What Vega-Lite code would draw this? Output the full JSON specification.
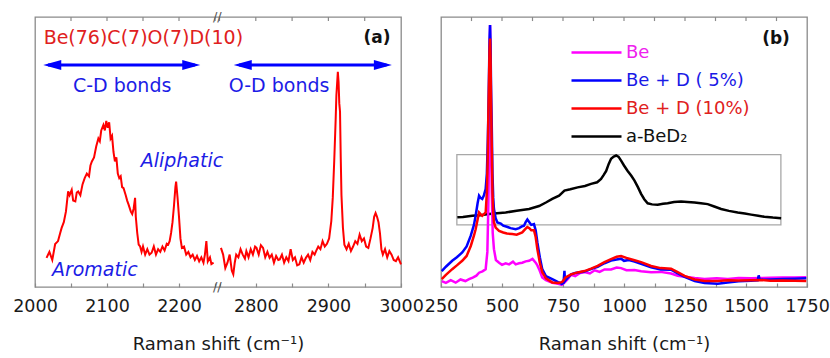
{
  "$schema": "https://vega.github.io/schema/vega-lite/v6.json",
  "background": "white",
  "padding": {"left": 12, "top": 10, "right": 5, "bottom": 2},
  "spacing": 40,
  "bounds": "flush",
  "config": {
    "font": "DejaVu Sans",
    "view": {"stroke": "#8a8a8a", "strokeWidth": 1.3},
    "axis": {
      "domain": false,
      "grid": false,
      "tickColor": "#8a8a8a",
      "tickSize": -4,
      "tickWidth": 1.2,
      "labelFont": "DejaVu Sans",
      "labelFontSize": 17.5,
      "labelColor": "#1a1a1a",
      "labelPadding": 14,
      "labelFlush": false,
      "labelOverlap": false,
      "labelBound": false,
      "titleFont": "DejaVu Sans",
      "titleFontSize": 18,
      "titleFontWeight": "normal",
      "titleColor": "#1a1a1a",
      "titlePadding": 21
    },
    "text": {"font": "DejaVu Sans"}
  },
  "datasets": {
    "a": [
      {"x":2016,"y":10.8,"seg":"L"},{"x":2020,"y":13,"seg":"L"},{"x":2024,"y":10,"seg":"L"},{"x":2028,"y":15.9,"seg":"L"},{"x":2032,"y":17,"seg":"L"},{"x":2035,"y":20,"seg":"L"},{"x":2037,"y":21.9,"seg":"L"},{"x":2040,"y":24,"seg":"L"},{"x":2043,"y":28,"seg":"L"},{"x":2046,"y":35.4,"seg":"L"},{"x":2048,"y":34,"seg":"L"},{"x":2051,"y":36,"seg":"L"},{"x":2053,"y":32,"seg":"L"},{"x":2056,"y":31.7,"seg":"L"},{"x":2058,"y":35,"seg":"L"},{"x":2060,"y":35.4,"seg":"L"},{"x":2063,"y":34,"seg":"L"},{"x":2066,"y":38,"seg":"L"},{"x":2069,"y":40.3,"seg":"L"},{"x":2072,"y":42,"seg":"L"},{"x":2075,"y":41,"seg":"L"},{"x":2077,"y":45,"seg":"L"},{"x":2079,"y":46.5,"seg":"L"},{"x":2082,"y":48,"seg":"L"},{"x":2085,"y":52,"seg":"L"},{"x":2088,"y":55,"seg":"L"},{"x":2090,"y":54,"seg":"L"},{"x":2092,"y":58,"seg":"L"},{"x":2095,"y":60,"seg":"L"},{"x":2097,"y":58,"seg":"L"},{"x":2099,"y":61.5,"seg":"L"},{"x":2101,"y":59,"seg":"L"},{"x":2103,"y":61,"seg":"L"},{"x":2105,"y":55,"seg":"L"},{"x":2107,"y":56,"seg":"L"},{"x":2109,"y":50,"seg":"L"},{"x":2111,"y":46.5,"seg":"L"},{"x":2113,"y":48,"seg":"L"},{"x":2115,"y":42,"seg":"L"},{"x":2117,"y":40.3,"seg":"L"},{"x":2119,"y":41,"seg":"L"},{"x":2121,"y":37,"seg":"L"},{"x":2123,"y":36.6,"seg":"L"},{"x":2126,"y":34,"seg":"L"},{"x":2128,"y":32,"seg":"L"},{"x":2130,"y":30.5,"seg":"L"},{"x":2133,"y":28,"seg":"L"},{"x":2135,"y":27,"seg":"L"},{"x":2137,"y":29,"seg":"L"},{"x":2139,"y":33,"seg":"L"},{"x":2140,"y":26,"seg":"L"},{"x":2142,"y":20,"seg":"L"},{"x":2144,"y":15.7,"seg":"L"},{"x":2146,"y":15,"seg":"L"},{"x":2148,"y":13,"seg":"L"},{"x":2150,"y":15,"seg":"L"},{"x":2153,"y":12,"seg":"L"},{"x":2156,"y":14,"seg":"L"},{"x":2159,"y":12,"seg":"L"},{"x":2162,"y":12.7,"seg":"L"},{"x":2165,"y":15,"seg":"L"},{"x":2168,"y":12,"seg":"L"},{"x":2171,"y":14,"seg":"L"},{"x":2174,"y":13,"seg":"L"},{"x":2177,"y":15,"seg":"L"},{"x":2180,"y":13.5,"seg":"L"},{"x":2183,"y":16,"seg":"L"},{"x":2185,"y":15.7,"seg":"L"},{"x":2187,"y":17,"seg":"L"},{"x":2189,"y":20,"seg":"L"},{"x":2191,"y":24,"seg":"L"},{"x":2193,"y":30,"seg":"L"},{"x":2195,"y":37,"seg":"L"},{"x":2196,"y":39,"seg":"L"},{"x":2198,"y":33,"seg":"L"},{"x":2200,"y":26,"seg":"L"},{"x":2202,"y":18,"seg":"L"},{"x":2204,"y":14.5,"seg":"L"},{"x":2207,"y":15,"seg":"L"},{"x":2210,"y":12,"seg":"L"},{"x":2213,"y":13,"seg":"L"},{"x":2216,"y":11,"seg":"L"},{"x":2219,"y":12,"seg":"L"},{"x":2222,"y":10,"seg":"L"},{"x":2225,"y":11.5,"seg":"L"},{"x":2228,"y":9.5,"seg":"L"},{"x":2231,"y":11,"seg":"L"},{"x":2234,"y":9,"seg":"L"},{"x":2236,"y":12,"seg":"L"},{"x":2238,"y":17,"seg":"L"},{"x":2240,"y":9.5,"seg":"L"},{"x":2243,"y":11,"seg":"L"},{"x":2245,"y":8.5,"seg":"L"},{"x":2248,"y":9,"seg":"L"},
      {"x":2752,"y":14.5,"seg":"R"},{"x":2755,"y":12,"seg":"R"},{"x":2758,"y":7,"seg":"R"},{"x":2761,"y":9,"seg":"R"},{"x":2764,"y":12,"seg":"R"},{"x":2767,"y":6,"seg":"R"},{"x":2769,"y":4.7,"seg":"R"},{"x":2771,"y":9,"seg":"R"},{"x":2773,"y":12,"seg":"R"},{"x":2776,"y":11,"seg":"R"},{"x":2779,"y":14,"seg":"R"},{"x":2782,"y":12,"seg":"R"},{"x":2785,"y":10.5,"seg":"R"},{"x":2787,"y":13.3,"seg":"R"},{"x":2790,"y":11,"seg":"R"},{"x":2793,"y":14,"seg":"R"},{"x":2796,"y":12,"seg":"R"},{"x":2799,"y":15,"seg":"R"},{"x":2801,"y":14.5,"seg":"R"},{"x":2804,"y":12,"seg":"R"},{"x":2807,"y":15.5,"seg":"R"},{"x":2810,"y":14.5,"seg":"R"},{"x":2813,"y":11,"seg":"R"},{"x":2816,"y":13,"seg":"R"},{"x":2819,"y":10.8,"seg":"R"},{"x":2822,"y":12,"seg":"R"},{"x":2825,"y":9,"seg":"R"},{"x":2828,"y":11.5,"seg":"R"},{"x":2831,"y":10,"seg":"R"},{"x":2833,"y":10.2,"seg":"R"},{"x":2836,"y":12,"seg":"R"},{"x":2839,"y":9,"seg":"R"},{"x":2842,"y":11,"seg":"R"},{"x":2845,"y":9.6,"seg":"R"},{"x":2848,"y":14,"seg":"R"},{"x":2851,"y":10,"seg":"R"},{"x":2854,"y":11,"seg":"R"},{"x":2857,"y":8,"seg":"R"},{"x":2860,"y":8.4,"seg":"R"},{"x":2863,"y":11,"seg":"R"},{"x":2866,"y":9,"seg":"R"},{"x":2869,"y":10.8,"seg":"R"},{"x":2872,"y":12,"seg":"R"},{"x":2875,"y":10,"seg":"R"},{"x":2878,"y":13,"seg":"R"},{"x":2881,"y":12,"seg":"R"},{"x":2883,"y":13.3,"seg":"R"},{"x":2886,"y":15,"seg":"R"},{"x":2889,"y":14,"seg":"R"},{"x":2892,"y":17,"seg":"R"},{"x":2895,"y":15,"seg":"R"},{"x":2898,"y":16,"seg":"R"},{"x":2901,"y":18,"seg":"R"},{"x":2904,"y":24.4,"seg":"R"},{"x":2906,"y":33,"seg":"R"},{"x":2908,"y":46.5,"seg":"R"},{"x":2910,"y":62,"seg":"R"},{"x":2911,"y":71,"seg":"R"},{"x":2913,"y":79.7,"seg":"R"},{"x":2914,"y":76,"seg":"R"},{"x":2915,"y":68,"seg":"R"},{"x":2916,"y":65,"seg":"R"},{"x":2917,"y":48,"seg":"R"},{"x":2918,"y":34,"seg":"R"},{"x":2920,"y":22,"seg":"R"},{"x":2922,"y":15.7,"seg":"R"},{"x":2925,"y":14,"seg":"R"},{"x":2928,"y":16,"seg":"R"},{"x":2931,"y":13.3,"seg":"R"},{"x":2934,"y":15,"seg":"R"},{"x":2937,"y":17,"seg":"R"},{"x":2940,"y":16,"seg":"R"},{"x":2943,"y":19.4,"seg":"R"},{"x":2946,"y":17,"seg":"R"},{"x":2949,"y":18,"seg":"R"},{"x":2952,"y":15,"seg":"R"},{"x":2955,"y":14.5,"seg":"R"},{"x":2958,"y":18,"seg":"R"},{"x":2961,"y":21.9,"seg":"R"},{"x":2963,"y":26,"seg":"R"},{"x":2965,"y":27.4,"seg":"R"},{"x":2967,"y":26,"seg":"R"},{"x":2969,"y":24,"seg":"R"},{"x":2971,"y":20,"seg":"R"},{"x":2973,"y":14,"seg":"R"},{"x":2975,"y":12,"seg":"R"},{"x":2978,"y":14,"seg":"R"},{"x":2981,"y":11,"seg":"R"},{"x":2984,"y":13.3,"seg":"R"},{"x":2987,"y":12,"seg":"R"},{"x":2990,"y":10,"seg":"R"},{"x":2993,"y":9.6,"seg":"R"},{"x":2996,"y":11,"seg":"R"},{"x":3000,"y":8.4,"seg":"R"}
    ],
    "b": [
      {"s":"a-BeD₂","x":317,"y":25.8},{"s":"a-BeD₂","x":340,"y":25.9},{"s":"a-BeD₂","x":378,"y":26.4},{"s":"a-BeD₂","x":410,"y":26.6},{"s":"a-BeD₂","x":447,"y":27},{"s":"a-BeD₂","x":480,"y":27.3},{"s":"a-BeD₂","x":515,"y":27.6},{"s":"a-BeD₂","x":560,"y":28.2},{"s":"a-BeD₂","x":611,"y":28.9},{"s":"a-BeD₂","x":652,"y":30},{"s":"a-BeD₂","x":680,"y":31.3},{"s":"a-BeD₂","x":706,"y":32.6},{"s":"a-BeD₂","x":734,"y":33.8},{"s":"a-BeD₂","x":756,"y":35.7},{"s":"a-BeD₂","x":780,"y":36.2},{"s":"a-BeD₂","x":810,"y":36.9},{"s":"a-BeD₂","x":840,"y":37.4},{"s":"a-BeD₂","x":865,"y":38.2},{"s":"a-BeD₂","x":890,"y":38.8},{"s":"a-BeD₂","x":906,"y":40},{"s":"a-BeD₂","x":917,"y":41.5},{"s":"a-BeD₂","x":927,"y":43},{"s":"a-BeD₂","x":937,"y":45.5},{"s":"a-BeD₂","x":947,"y":47.5},{"s":"a-BeD₂","x":958,"y":48.3},{"s":"a-BeD₂","x":968,"y":48.7},{"s":"a-BeD₂","x":978,"y":48.2},{"s":"a-BeD₂","x":988,"y":46.8},{"s":"a-BeD₂","x":1000,"y":45},{"s":"a-BeD₂","x":1015,"y":43},{"s":"a-BeD₂","x":1030,"y":41.2},{"s":"a-BeD₂","x":1043,"y":39.4},{"s":"a-BeD₂","x":1057,"y":37},{"s":"a-BeD₂","x":1070,"y":34.5},{"s":"a-BeD₂","x":1083,"y":32.5},{"s":"a-BeD₂","x":1097,"y":31},{"s":"a-BeD₂","x":1115,"y":30.6},{"s":"a-BeD₂","x":1138,"y":30.5},{"s":"a-BeD₂","x":1160,"y":30.8},{"s":"a-BeD₂","x":1179,"y":31},{"s":"a-BeD₂","x":1205,"y":31.5},{"s":"a-BeD₂","x":1234,"y":31.7},{"s":"a-BeD₂","x":1260,"y":31.5},{"s":"a-BeD₂","x":1289,"y":31.3},{"s":"a-BeD₂","x":1315,"y":31},{"s":"a-BeD₂","x":1343,"y":30.7},{"s":"a-BeD₂","x":1370,"y":29.8},{"s":"a-BeD₂","x":1398,"y":28.9},{"s":"a-BeD₂","x":1430,"y":28.2},{"s":"a-BeD₂","x":1466,"y":27.6},{"s":"a-BeD₂","x":1495,"y":27.2},{"s":"a-BeD₂","x":1521,"y":26.8},{"s":"a-BeD₂","x":1550,"y":26.4},{"s":"a-BeD₂","x":1575,"y":26},{"s":"a-BeD₂","x":1610,"y":25.7},{"s":"a-BeD₂","x":1644,"y":25.5},
      {"s":"Be","x":253,"y":2.2},{"s":"Be","x":270,"y":1.5},{"s":"Be","x":290,"y":2.5},{"s":"Be","x":310,"y":1.6},{"s":"Be","x":330,"y":2.8},{"s":"Be","x":350,"y":2.2},{"s":"Be","x":365,"y":2.9},{"s":"Be","x":380,"y":3.5},{"s":"Be","x":395,"y":4.2},{"s":"Be","x":406,"y":5.3},{"s":"Be","x":420,"y":5.8},{"s":"Be","x":433,"y":6.6},{"s":"Be","x":440,"y":13},{"s":"Be","x":444,"y":30},{"s":"Be","x":447,"y":50},{"s":"Be","x":449,"y":80},{"s":"Be","x":451,"y":97},{"s":"Be","x":453,"y":80},{"s":"Be","x":455,"y":55},{"s":"Be","x":458,"y":35},{"s":"Be","x":462,"y":20},{"s":"Be","x":467,"y":14},{"s":"Be","x":475,"y":10},{"s":"Be","x":488,"y":9},{"s":"Be","x":500,"y":8.2},{"s":"Be","x":515,"y":8.8},{"s":"Be","x":529,"y":8.4},{"s":"Be","x":545,"y":9.4},{"s":"Be","x":556,"y":8.4},{"s":"Be","x":570,"y":8.8},{"s":"Be","x":583,"y":9},{"s":"Be","x":597,"y":9.5},{"s":"Be","x":611,"y":9.7},{"s":"Be","x":625,"y":10.4},{"s":"Be","x":638,"y":9},{"s":"Be","x":645,"y":8},{"s":"Be","x":652,"y":6.6},{"s":"Be","x":665,"y":3.5},{"s":"Be","x":680,"y":2.5},{"s":"Be","x":706,"y":1.6},{"s":"Be","x":730,"y":1.2},{"s":"Be","x":745,"y":0.8},{"s":"Be","x":755,"y":1.5},{"s":"Be","x":770,"y":3},{"s":"Be","x":783,"y":4.5},{"s":"Be","x":800,"y":4},{"s":"Be","x":820,"y":5.2},{"s":"Be","x":838,"y":5.5},{"s":"Be","x":860,"y":5},{"s":"Be","x":880,"y":6.2},{"s":"Be","x":900,"y":5.6},{"s":"Be","x":920,"y":6.5},{"s":"Be","x":947,"y":6.5},{"s":"Be","x":970,"y":7.2},{"s":"Be","x":988,"y":7},{"s":"Be","x":1010,"y":6.2},{"s":"Be","x":1043,"y":6.3},{"s":"Be","x":1070,"y":5.8},{"s":"Be","x":1111,"y":5.5},{"s":"Be","x":1150,"y":5.6},{"s":"Be","x":1193,"y":5},{"s":"Be","x":1220,"y":4.2},{"s":"Be","x":1248,"y":3.8},{"s":"Be","x":1290,"y":3.3},{"s":"Be","x":1330,"y":3},{"s":"Be","x":1380,"y":3.2},{"s":"Be","x":1425,"y":3},{"s":"Be","x":1470,"y":3.3},{"s":"Be","x":1520,"y":3.2},{"s":"Be","x":1562,"y":3.3},{"s":"Be","x":1600,"y":3.4},{"s":"Be","x":1650,"y":3.5},{"s":"Be","x":1700,"y":3.5},{"s":"Be","x":1747,"y":3.6},
      {"s":"Be + D ( 5%)","x":253,"y":5.9},{"s":"Be + D ( 5%)","x":270,"y":7.5},{"s":"Be + D ( 5%)","x":296,"y":9.7},{"s":"Be + D ( 5%)","x":315,"y":11},{"s":"Be + D ( 5%)","x":337,"y":12.8},{"s":"Be + D ( 5%)","x":355,"y":15},{"s":"Be + D ( 5%)","x":372,"y":19},{"s":"Be + D ( 5%)","x":385,"y":23},{"s":"Be + D ( 5%)","x":392,"y":26.4},{"s":"Be + D ( 5%)","x":400,"y":31},{"s":"Be + D ( 5%)","x":406,"y":33.8},{"s":"Be + D ( 5%)","x":412,"y":33},{"s":"Be + D ( 5%)","x":419,"y":32.6},{"s":"Be + D ( 5%)","x":426,"y":34},{"s":"Be + D ( 5%)","x":433,"y":36.3},{"s":"Be + D ( 5%)","x":438,"y":42},{"s":"Be + D ( 5%)","x":442,"y":55},{"s":"Be + D ( 5%)","x":444,"y":63.6},{"s":"Be + D ( 5%)","x":447,"y":80},{"s":"Be + D ( 5%)","x":449,"y":92},{"s":"Be + D ( 5%)","x":451,"y":97},{"s":"Be + D ( 5%)","x":453,"y":90},{"s":"Be + D ( 5%)","x":455,"y":75},{"s":"Be + D ( 5%)","x":458,"y":60},{"s":"Be + D ( 5%)","x":461,"y":42},{"s":"Be + D ( 5%)","x":464,"y":33},{"s":"Be + D ( 5%)","x":467,"y":28.9},{"s":"Be + D ( 5%)","x":474,"y":25.5},{"s":"Be + D ( 5%)","x":481,"y":23.9},{"s":"Be + D ( 5%)","x":495,"y":23.5},{"s":"Be + D ( 5%)","x":505,"y":22.7},{"s":"Be + D ( 5%)","x":520,"y":22.3},{"s":"Be + D ( 5%)","x":535,"y":21.8},{"s":"Be + D ( 5%)","x":556,"y":21.4},{"s":"Be + D ( 5%)","x":570,"y":21.8},{"s":"Be + D ( 5%)","x":583,"y":22.5},{"s":"Be + D ( 5%)","x":590,"y":22.7},{"s":"Be + D ( 5%)","x":597,"y":24},{"s":"Be + D ( 5%)","x":604,"y":25},{"s":"Be + D ( 5%)","x":612,"y":24},{"s":"Be + D ( 5%)","x":620,"y":23},{"s":"Be + D ( 5%)","x":631,"y":23.3},{"s":"Be + D ( 5%)","x":638,"y":21},{"s":"Be + D ( 5%)","x":645,"y":16.5},{"s":"Be + D ( 5%)","x":655,"y":11},{"s":"Be + D ( 5%)","x":665,"y":6.6},{"s":"Be + D ( 5%)","x":680,"y":4},{"s":"Be + D ( 5%)","x":706,"y":2.9},{"s":"Be + D ( 5%)","x":730,"y":1.8},{"s":"Be + D ( 5%)","x":745,"y":1.2},{"s":"Be + D ( 5%)","x":752,"y":1.5},{"s":"Be + D ( 5%)","x":756,"y":6},{"s":"Be + D ( 5%)","x":758,"y":2.2},{"s":"Be + D ( 5%)","x":770,"y":3.5},{"s":"Be + D ( 5%)","x":783,"y":4.7},{"s":"Be + D ( 5%)","x":800,"y":5.2},{"s":"Be + D ( 5%)","x":838,"y":5.7},{"s":"Be + D ( 5%)","x":870,"y":6.8},{"s":"Be + D ( 5%)","x":892,"y":7.5},{"s":"Be + D ( 5%)","x":920,"y":8.8},{"s":"Be + D ( 5%)","x":947,"y":9.8},{"s":"Be + D ( 5%)","x":970,"y":10.2},{"s":"Be + D ( 5%)","x":988,"y":10.5},{"s":"Be + D ( 5%)","x":1000,"y":9.7},{"s":"Be + D ( 5%)","x":1020,"y":10},{"s":"Be + D ( 5%)","x":1043,"y":9.4},{"s":"Be + D ( 5%)","x":1070,"y":8.6},{"s":"Be + D ( 5%)","x":1111,"y":7.3},{"s":"Be + D ( 5%)","x":1150,"y":6.5},{"s":"Be + D ( 5%)","x":1193,"y":6.4},{"s":"Be + D ( 5%)","x":1220,"y":5},{"s":"Be + D ( 5%)","x":1248,"y":3.8},{"s":"Be + D ( 5%)","x":1290,"y":2.2},{"s":"Be + D ( 5%)","x":1330,"y":1.5},{"s":"Be + D ( 5%)","x":1384,"y":1.2},{"s":"Be + D ( 5%)","x":1425,"y":1.7},{"s":"Be + D ( 5%)","x":1470,"y":2.1},{"s":"Be + D ( 5%)","x":1520,"y":2.3},{"s":"Be + D ( 5%)","x":1548,"y":2.5},{"s":"Be + D ( 5%)","x":1552,"y":4.3},{"s":"Be + D ( 5%)","x":1556,"y":2.7},{"s":"Be + D ( 5%)","x":1600,"y":2.8},{"s":"Be + D ( 5%)","x":1650,"y":3},{"s":"Be + D ( 5%)","x":1700,"y":3.1},{"s":"Be + D ( 5%)","x":1747,"y":3.2},
      {"s":"Be + D (10%)","x":253,"y":2.9},{"s":"Be + D (10%)","x":270,"y":4.5},{"s":"Be + D (10%)","x":296,"y":6.6},{"s":"Be + D (10%)","x":315,"y":8},{"s":"Be + D (10%)","x":337,"y":9.7},{"s":"Be + D (10%)","x":355,"y":11.5},{"s":"Be + D (10%)","x":372,"y":15.2},{"s":"Be + D (10%)","x":385,"y":19},{"s":"Be + D (10%)","x":392,"y":21.4},{"s":"Be + D (10%)","x":400,"y":25},{"s":"Be + D (10%)","x":406,"y":27.6},{"s":"Be + D (10%)","x":412,"y":27},{"s":"Be + D (10%)","x":419,"y":26.4},{"s":"Be + D (10%)","x":426,"y":27},{"s":"Be + D (10%)","x":433,"y":27.6},{"s":"Be + D (10%)","x":438,"y":35},{"s":"Be + D (10%)","x":442,"y":50},{"s":"Be + D (10%)","x":444,"y":63.6},{"s":"Be + D (10%)","x":447,"y":78},{"s":"Be + D (10%)","x":449,"y":88},{"s":"Be + D (10%)","x":451,"y":92},{"s":"Be + D (10%)","x":453,"y":85},{"s":"Be + D (10%)","x":455,"y":70},{"s":"Be + D (10%)","x":458,"y":52},{"s":"Be + D (10%)","x":461,"y":35},{"s":"Be + D (10%)","x":464,"y":28},{"s":"Be + D (10%)","x":467,"y":24},{"s":"Be + D (10%)","x":474,"y":22},{"s":"Be + D (10%)","x":488,"y":20.8},{"s":"Be + D (10%)","x":505,"y":20.2},{"s":"Be + D (10%)","x":520,"y":19.8},{"s":"Be + D (10%)","x":542,"y":19.6},{"s":"Be + D (10%)","x":560,"y":19.4},{"s":"Be + D (10%)","x":583,"y":20.2},{"s":"Be + D (10%)","x":597,"y":21.6},{"s":"Be + D (10%)","x":604,"y":22.2},{"s":"Be + D (10%)","x":612,"y":21.8},{"s":"Be + D (10%)","x":620,"y":21},{"s":"Be + D (10%)","x":631,"y":21},{"s":"Be + D (10%)","x":638,"y":18.5},{"s":"Be + D (10%)","x":645,"y":14},{"s":"Be + D (10%)","x":655,"y":9},{"s":"Be + D (10%)","x":665,"y":5.5},{"s":"Be + D (10%)","x":680,"y":3.2},{"s":"Be + D (10%)","x":706,"y":1.7},{"s":"Be + D (10%)","x":730,"y":1.5},{"s":"Be + D (10%)","x":745,"y":1.8},{"s":"Be + D (10%)","x":750,"y":2.2},{"s":"Be + D (10%)","x":760,"y":3.5},{"s":"Be + D (10%)","x":783,"y":4.7},{"s":"Be + D (10%)","x":810,"y":5.4},{"s":"Be + D (10%)","x":838,"y":5.9},{"s":"Be + D (10%)","x":865,"y":6.8},{"s":"Be + D (10%)","x":892,"y":7.8},{"s":"Be + D (10%)","x":920,"y":9.2},{"s":"Be + D (10%)","x":947,"y":10.3},{"s":"Be + D (10%)","x":970,"y":11.2},{"s":"Be + D (10%)","x":988,"y":11.5},{"s":"Be + D (10%)","x":1010,"y":10.8},{"s":"Be + D (10%)","x":1043,"y":9.9},{"s":"Be + D (10%)","x":1070,"y":9.2},{"s":"Be + D (10%)","x":1111,"y":7.8},{"s":"Be + D (10%)","x":1150,"y":7},{"s":"Be + D (10%)","x":1193,"y":6.8},{"s":"Be + D (10%)","x":1220,"y":5.5},{"s":"Be + D (10%)","x":1248,"y":4.1},{"s":"Be + D (10%)","x":1290,"y":2.8},{"s":"Be + D (10%)","x":1330,"y":2.2},{"s":"Be + D (10%)","x":1384,"y":2.2},{"s":"Be + D (10%)","x":1425,"y":2.5},{"s":"Be + D (10%)","x":1470,"y":2.4},{"s":"Be + D (10%)","x":1520,"y":2.5},{"s":"Be + D (10%)","x":1562,"y":2.6},{"s":"Be + D (10%)","x":1600,"y":2.3},{"s":"Be + D (10%)","x":1650,"y":2.4},{"s":"Be + D (10%)","x":1700,"y":2.3},{"s":"Be + D (10%)","x":1747,"y":2.2}
    ],
    "ticksA": [{"t":2050},{"t":2100},{"t":2150},{"t":2200},{"t":2250},{"t":2750},{"t":2800},{"t":2850},{"t":2900},{"t":2950}],
    "ticksB": [{"t":375},{"t":500},{"t":625},{"t":750},{"t":875},{"t":1000},{"t":1125},{"t":1250},{"t":1375},{"t":1500},{"t":1625}]
  },
  "hconcat": [
    {
      "width": 366,
      "height": 270,
      "layer": [
        {
          "data": {"name": "a"},
          "mark": {"type": "line", "color": "#ff0000", "strokeWidth": 2},
          "encoding": {
            "x": {
              "field": "x", "type": "quantitative",
              "scale": {"domain": [2000, 2250, 2750, 3000], "range": [0, 180, 184.5, 366], "nice": false, "zero": false},
              "axis": {
                "orient": "bottom",
                "values": [2000, 2050, 2100, 2150, 2200, 2250, 2750, 2800, 2850, 2900, 2950, 3000],
                "tickCount": 30,
                "labelExpr": "datum.value % 100 === 0 ? datum.label : ''",
                "labelOverlap": false,
                "format": "d",
                "title": "Raman shift (cm⁻¹)"
              }
            },
            "y": {"field": "y", "type": "quantitative", "scale": {"domain": [0, 100], "nice": false}, "axis": null},
            "detail": {"field": "seg", "type": "nominal"}
          }
        },
        {
          "data": {"name": "ticksA"},
          "mark": {"type": "rule", "color": "#8a8a8a", "strokeWidth": 1.2},
          "encoding": {"x": {"field": "t", "type": "quantitative"}, "y": {"datum": 100, "axis": null}, "y2": {"datum": 98.5}}
        },
        {
          "data": {"values": [{}]},
          "mark": {"type": "rule", "color": "#0000ff", "strokeWidth": 3},
          "encoding": {"x": {"datum": 2018}, "x2": {"datum": 2222}, "y": {"datum": 82.2, "axis": null}}
        },
        {
          "data": {"values": [{}]},
          "mark": {"type": "rule", "color": "#0000ff", "strokeWidth": 3},
          "encoding": {"x": {"datum": 2777}, "x2": {"datum": 2980}, "y": {"datum": 82.2, "axis": null}}
        },
        {
          "data": {"values": [{}]},
          "mark": {"type": "point", "filled": true, "color": "#0000ff", "opacity": 1, "size": 324, "shape": "M-1,0L1,-0.55L1,0.55Z"},
          "encoding": {"x": {"datum": 2024}, "y": {"datum": 82.2, "axis": null}}
        },
        {
          "data": {"values": [{}]},
          "mark": {"type": "point", "filled": true, "color": "#0000ff", "opacity": 1, "size": 324, "shape": "M1,0L-1,-0.55L-1,0.55Z"},
          "encoding": {"x": {"datum": 2217}, "y": {"datum": 82.2, "axis": null}}
        },
        {
          "data": {"values": [{}]},
          "mark": {"type": "point", "filled": true, "color": "#0000ff", "opacity": 1, "size": 324, "shape": "M-1,0L1,-0.55L1,0.55Z"},
          "encoding": {"x": {"datum": 2782}, "y": {"datum": 82.2, "axis": null}}
        },
        {
          "data": {"values": [{}]},
          "mark": {"type": "point", "filled": true, "color": "#0000ff", "opacity": 1, "size": 324, "shape": "M1,0L-1,-0.55L-1,0.55Z"},
          "encoding": {"x": {"datum": 2975}, "y": {"datum": 82.2, "axis": null}}
        },
        {
          "data": {"values": [{}]},
          "mark": {"type": "text", "text": "Be(76)C(7)O(7)D(10)", "color": "#e02020", "fontSize": 19, "align": "left", "baseline": "middle"},
          "encoding": {"x": {"datum": 2012}, "y": {"datum": 92.2, "axis": null}}
        },
        {
          "data": {"values": [{}]},
          "mark": {"type": "text", "text": "(a)", "color": "#111111", "fontSize": 17, "fontWeight": "bold", "align": "center", "baseline": "middle"},
          "encoding": {"x": {"datum": 2967}, "y": {"datum": 92.2, "axis": null}}
        },
        {
          "data": {"values": [{}]},
          "mark": {"type": "text", "text": "C-D bonds", "color": "#1c1ce6", "fontSize": 19, "align": "center", "baseline": "middle"},
          "encoding": {"x": {"datum": 2121}, "y": {"datum": 74.4, "axis": null}}
        },
        {
          "data": {"values": [{}]},
          "mark": {"type": "text", "text": "O-D bonds", "color": "#1c1ce6", "fontSize": 19, "align": "center", "baseline": "middle"},
          "encoding": {"x": {"datum": 2832}, "y": {"datum": 74.4, "axis": null}}
        },
        {
          "data": {"values": [{}]},
          "mark": {"type": "text", "text": "Aliphatic", "color": "#1c1ce6", "fontSize": 19, "fontStyle": "italic", "align": "center", "baseline": "middle"},
          "encoding": {"x": {"datum": 2204}, "y": {"datum": 46.7, "axis": null}}
        },
        {
          "data": {"values": [{}]},
          "mark": {"type": "text", "text": "Aromatic", "color": "#1c1ce6", "fontSize": 19, "fontStyle": "italic", "align": "center", "baseline": "middle"},
          "encoding": {"x": {"datum": 2083}, "y": {"datum": 6.3, "axis": null}}
        },
        {
          "data": {"values": [{}]},
          "mark": {"type": "text", "text": "//", "color": "#555555", "fontSize": 13, "align": "center", "baseline": "middle"},
          "encoding": {"x": {"datum": 2500}, "y": {"datum": 100, "axis": null}}
        },
        {
          "data": {"values": [{}]},
          "mark": {"type": "text", "text": "//", "color": "#555555", "fontSize": 13, "align": "center", "baseline": "middle"},
          "encoding": {"x": {"datum": 2500}, "y": {"datum": 0, "axis": null}}
        }
      ]
    },
    {
      "width": 366,
      "height": 270,
      "layer": [
        {
          "data": {"values": [{}]},
          "mark": {"type": "rect", "filled": false, "stroke": "#a8a8a8", "strokeWidth": 1.3},
          "encoding": {"x": {"datum": 315}, "x2": {"datum": 1643}, "y": {"datum": 49, "axis": null}, "y2": {"datum": 23}}
        },
        {
          "data": {"name": "b"},
          "mark": {"type": "line", "strokeWidth": 2.5},
          "encoding": {
            "x": {
              "field": "x", "type": "quantitative",
              "scale": {"domain": [250, 1750], "nice": false, "zero": false},
              "axis": {
                "orient": "bottom",
                "values": [250, 375, 500, 625, 750, 875, 1000, 1125, 1250, 1375, 1500, 1625, 1750],
                "tickCount": 30,
                "labelExpr": "datum.value % 250 === 0 ? datum.label : ''",
                "labelOverlap": false,
                "format": "d",
                "title": "Raman shift (cm⁻¹)"
              }
            },
            "y": {"field": "y", "type": "quantitative", "scale": {"domain": [0, 100], "nice": false}, "axis": null},
            "color": {
              "field": "s", "type": "nominal",
              "scale": {"domain": ["Be", "Be + D ( 5%)", "Be + D (10%)", "a-BeD₂"], "range": ["#ff00ff", "#0000ff", "#ff0000", "#000000"]},
              "legend": {
                "orient": "none",
                "legendX": 550,
                "legendY": 24,
                "title": null,
                "padding": 0,
                "symbolType": "M-2.5,0L2.5,0",
                "symbolSize": 400,
                "symbolStrokeWidth": 2.5,
                "labelFont": "DejaVu Sans",
                "labelFontSize": 18,
                "labelOffset": 18,
                "rowPadding": 7,
                "labelColor": {"expr": "datum.value === 'Be' ? '#ee22ee' : datum.value === 'Be + D ( 5%)' ? '#1a1ae6' : datum.value === 'Be + D (10%)' ? '#e02020' : '#111111'"}
              }
            }
          }
        },
        {
          "data": {"name": "ticksB"},
          "mark": {"type": "rule", "color": "#8a8a8a", "strokeWidth": 1.2},
          "encoding": {"x": {"field": "t", "type": "quantitative"}, "y": {"datum": 100, "axis": null}, "y2": {"datum": 98.5}}
        },
        {
          "data": {"values": [{}]},
          "mark": {"type": "text", "text": "(b)", "color": "#111111", "fontSize": 17, "fontWeight": "bold", "align": "center", "baseline": "middle"},
          "encoding": {"x": {"datum": 1623}, "y": {"datum": 92, "axis": null}}
        }
      ]
    }
  ]
}
